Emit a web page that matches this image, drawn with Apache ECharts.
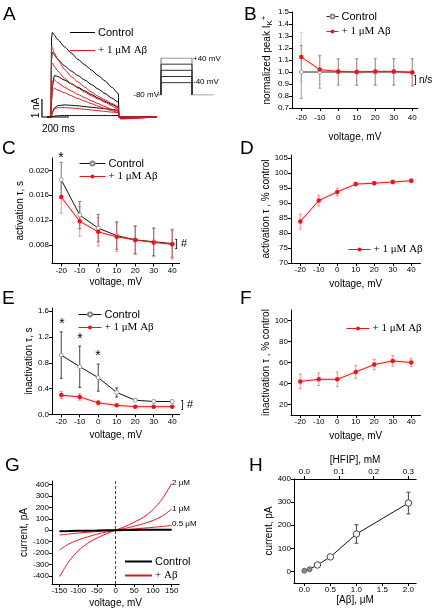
<!DOCTYPE html>
<html><head><meta charset="utf-8">
<script src="https://cdn.jsdelivr.net/npm/echarts@6/dist/echarts.min.js"></script>
<style>html,body{margin:0;padding:0;background:#fff}#c{width:436px;height:609px}</style>
</head><body><div id="c"></div>
<script>
const FONT = '"Liberation Sans", Arial, sans-serif';
const SERIF = '"Liberation Serif", "Times New Roman", serif';
const RED = '#e3181f';
const RED_ERR = 'rgba(225,60,60,0.55)';
const PINK_ERR = 'rgba(235,90,90,0.35)';

// ---- Panel A: current traces (ms, nA) ----
const traceTimes = [-30, 0, 4, 10, 25, 50, 100, 150, 200, 250, 300, 350, 400, 450, 499, 502, 515, 780];
const ctrlTraces = [
  [0,0,4.4,4.7,4.55,4.3,3.9,3.55,3.2,2.9,2.6,2.3,2.0,1.65,1.3,0,-0.05,0],
  [0,0,3.2,3.6,3.45,3.2,2.85,2.55,2.3,2.05,1.8,1.55,1.3,1.05,0.82,0,-0.05,0],
  [0,0,0.9,1.7,2.3,2.25,2.05,1.85,1.65,1.45,1.25,1.05,0.87,0.7,0.52,0,-0.03,0],
  [0,0,0.05,0.25,0.5,0.63,0.67,0.65,0.62,0.58,0.54,0.5,0.46,0.42,0.38,0,0,0],
  [0,0,0,0.02,0.05,0.07,0.08,0.08,0.08,0.08,0.08,0.08,0.08,0.08,0.08,0,0,0]
];
const abTraces = [
  [0,0,4.0,3.85,3.55,3.2,2.65,2.25,1.95,1.65,1.38,1.15,0.95,0.75,0.57,0,-0.1,0],
  [0,0,2.9,3.0,2.8,2.55,2.15,1.85,1.6,1.38,1.18,1.0,0.82,0.62,0.42,0,-0.1,0],
  [0,0,1.5,2.0,2.05,1.9,1.65,1.45,1.25,1.07,0.9,0.74,0.58,0.43,0.3,0,-0.08,0],
  [0,0,1.0,1.45,1.6,1.5,1.35,1.18,1.02,0.88,0.74,0.6,0.47,0.35,0.23,0,-0.05,0],
  [0,0,0.1,0.3,0.45,0.52,0.52,0.5,0.47,0.43,0.39,0.35,0.31,0.27,0.24,0,0,0]
];
const scaleBarT = [-67, -67, 133];
const scaleBarI = [1, 0, 0];
const protoSteps = [40, 20, 0, -20, -40];
const protoHold = -80;
const protoDur = 500;

// ---- Panels B-F: voltage steps ----
const voltages = [-20, -10, 0, 10, 20, 30, 40];
const bCtrl = [1, 1, 1, 1, 1, 1, 1];
const bCtrlErr = [0.22, 0.135, 0.11, 0.11, 0.11, 0.11, 0.11];
const bAb = [1.125, 1.02, 1.005, 1.0, 1.005, 1.005, 0.995];
const bAbErr = [0.205, 0.12, 0.105, 0.11, 0.11, 0.11, 0.115];

const cCtrl = [0.0185, 0.0128, 0.0107, 0.0095, 0.0088, 0.0085, 0.0082];
const cCtrlErr = [0.0028, 0.0022, 0.0022, 0.0022, 0.0022, 0.0022, 0.0022];
const cAb = [0.0157, 0.0118, 0.0101, 0.0093, 0.0088, 0.0084, 0.0081];
const cAbErr = [0.0026, 0.0024, 0.0023, 0.0024, 0.0023, 0.0023, 0.0024];

const dAb = [83.8, 90.8, 93.7, 96.3, 96.6, 97.0, 97.4];
const dAbErr = [2.5, 1.8, 1.3, 0.6, 0.5, 0.6, 0.6];

const eCtrl = [0.92, 0.74, 0.57, 0.34, 0.22, 0.20, 0.20];
const eCtrlErr = [0.36, 0.32, 0.21, 0.07, 0.02, 0.02, 0.02];
const eAb = [0.30, 0.27, 0.18, 0.14, 0.12, 0.12, 0.12];
const eAbErr = [0.055, 0.05, 0.03, 0.01, 0.01, 0.01, 0.01];

const fAb = [42, 44, 44, 51, 58, 61.5, 60];
const fAbErr = [7, 6, 7, 6, 5, 5, 4];

// ---- Panel G: I-V curves ----
const gV = [-150, -125, -100, -75, -50, -25, 0, 25, 50, 75, 100, 125, 150];
const g2uM = [-405, -275, -180, -115, -68, -32, 0, 32, 70, 115, 180, 275, 410];
const g1uM = [-172, -120, -85, -58, -35, -16, 0, 16, 35, 58, 85, 125, 185];
const g05uM = [-42, -33, -25, -18, -12, -6, 0, 6, 12, 18, 25, 33, 42];
const gCtrl = [-8, -7, -5, -4, -3, -1, 0, 1, 2, 3, 4, 5, 5];

// ---- Panel H: dose response ----
const hAb = [0, 0.1, 0.25, 0.5, 1.0, 2.0];
const hCur = [3, 10, 28, 63, 162, 296];
const hErr = [0, 0, 4, 10, 40, 47];
const hFilled = [true, true, false, false, false, false];

// tick label lists
const vTicks = [-20, -10, 0, 10, 20, 30, 40];
const cYTicks = [0.008, 0.012, 0.016, 0.020];
const fYTicks = [20, 40, 60, 80, 100];
const gXTicks = [-150, -100, -50, 0, 50, 100, 150];
const gYTicks = [-400, -300, -200, -100, 0, 100, 200, 300, 400];
const hXTicks = [0, 0.5, 1.0, 1.5, 2.0];
const hYTicks = [0, 100, 200, 300, 400];
const hTopTicks = [0, 0.1, 0.2, 0.3];

const LEG = {
  A_c: 'Control', A_a: '+ 1 μM Aβ', B_c: 'Control', B_a: '+ 1 μM Aβ',
  C_c: 'Control', C_a: '+ 1 μM Aβ', D_a: '+ 1 μM Aβ', E_c: 'Control', E_a: '+ 1 μM Aβ',
  F_a: '+ 1 μM Aβ', G_c: 'Control', G_a: '+ Aβ'
};

const chart = echarts.init(document.getElementById('c'), null, {renderer: 'canvas'});

function valAxis(gi, min, max, o) {
  o = o || {};
  const ax = {
    type: 'value', gridIndex: gi, min: min, max: max,
    splitLine: {show: false},
    axisLine: {show: true, onZero: false, lineStyle: {color: '#000', width: 1}},
    axisTick: {show: true, length: 3, lineStyle: {color: '#000'}},
    axisLabel: {color: '#000', fontSize: 8, fontFamily: FONT, margin: o.margin || 3},
    name: o.name || '', nameLocation: 'middle', nameGap: o.gap || 20,
    nameTextStyle: {color: '#000', fontSize: 10, fontFamily: FONT}
  };
  if (o.interval) ax.interval = o.interval;
  if (o.ticks) { ax.axisLabel.customValues = o.ticks; ax.axisTick.customValues = o.ticks; }
  if (o.fmt) ax.axisLabel.formatter = o.fmt;
  if (o.position) ax.position = o.position;
  if (o.rich) ax.nameTextStyle.rich = o.rich;
  return ax;
}
function hidden(gi, min, max) {
  return {type: 'value', gridIndex: gi, min: min, max: max, show: false, splitLine: {show: false}};
}

function errBar(xi, yi, xs, ys, es, color, cap) {
  return {
    type: 'custom', xAxisIndex: xi, yAxisIndex: yi, silent: true, z: 1,
    data: xs.map((x, i) => [x, ys[i] - es[i], ys[i] + es[i]]).filter((d, i) => es[i] > 0),
    renderItem: function (params, api) {
      const x = api.value(0);
      const lo = api.coord([x, api.value(1)]);
      const hi = api.coord([x, api.value(2)]);
      const w = cap / 2;
      const st = {stroke: color, lineWidth: 1};
      return {type: 'group', children: [
        {type: 'line', shape: {x1: lo[0], y1: lo[1], x2: hi[0], y2: hi[1]}, style: st},
        {type: 'line', shape: {x1: lo[0] - w, y1: lo[1], x2: lo[0] + w, y2: lo[1]}, style: st},
        {type: 'line', shape: {x1: hi[0] - w, y1: hi[1], x2: hi[0] + w, y2: hi[1]}, style: st}
      ]};
    }
  };
}
function ctrlLine(name, xi, xs, ys, color, size) {
  return {
    name: name, type: 'line', xAxisIndex: xi, yAxisIndex: xi, z: 3,
    data: xs.map((x, i) => [x, ys[i]]),
    symbol: 'circle', symbolSize: size || 4,
    lineStyle: {color: color || '#111', width: 1},
    itemStyle: {color: '#fff', borderColor: '#888', borderWidth: 0.8}
  };
}
function abLine(name, xi, xs, ys) {
  return {
    name: name, type: 'line', xAxisIndex: xi, yAxisIndex: xi, z: 4,
    data: xs.map((x, i) => [x, ys[i]]),
    symbol: 'circle', symbolSize: 4.5,
    lineStyle: {color: RED, width: 1, shadowColor: 'rgba(255,60,60,0.55)', shadowBlur: 3},
    itemStyle: {color: RED}
  };
}

const series = [];
// A traces
ctrlTraces.forEach((tr, k) => series.push({
  name: k === 0 ? 'A_c' : 'A_c' + k, type: 'line', xAxisIndex: 0, yAxisIndex: 0, symbol: 'none', z: 2,
  smooth: 0.25, smoothMonotone: 'x',
  data: traceTimes.map((t, i) => [t, tr[i]]), lineStyle: {color: '#000', width: 1}, itemStyle: {color: '#000'}
}));
abTraces.forEach((tr, k) => series.push({
  name: k === 0 ? 'A_a' : 'A_a' + k, type: 'line', xAxisIndex: 0, yAxisIndex: 0, symbol: 'none', z: 3,
  smooth: 0.25, smoothMonotone: 'x',
  data: traceTimes.map((t, i) => [t, tr[i]]), lineStyle: {color: RED, width: 1}, itemStyle: {color: RED}
}));
series.push({
  name: 'scalebar', type: 'line', xAxisIndex: 0, yAxisIndex: 0, symbol: 'none', z: 5,
  data: scaleBarT.map((t, i) => [t, scaleBarI[i]]), lineStyle: {color: '#000', width: 1.2}
});
// protocol
protoSteps.forEach((v, k) => series.push({
  name: 'proto' + k, type: 'line', xAxisIndex: 1, yAxisIndex: 1, symbol: 'none',
  data: [[0, protoHold], [0, v], [protoDur, v], [protoDur, protoHold]],
  lineStyle: {color: k === 0 ? '#777' : '#333', width: 1}
}));
series.push({name: 'protoHold', type: 'line', xAxisIndex: 1, yAxisIndex: 1, symbol: 'none',
  data: [[-50, protoHold], [0, protoHold]], lineStyle: {color: '#555', width: 1}});
series.push({name: 'protoTail', type: 'line', xAxisIndex: 1, yAxisIndex: 1, symbol: 'none',
  data: [[protoDur, protoHold], [850, protoHold]], lineStyle: {color: '#888', width: 1}});

// B
series.push(errBar(2, 2, voltages, bCtrl, bCtrlErr, '#999', 3));
series.push(errBar(2, 2, voltages, bAb, bAbErr, PINK_ERR, 3));
series.push(ctrlLine('B_c', 2, voltages, bCtrl, '#222', 4));
series.push(abLine('B_a', 2, voltages, bAb));
// C
series.push(errBar(3, 3, voltages, cCtrl, cCtrlErr, '#777', 3));
series.push(errBar(3, 3, voltages, cAb, cAbErr, RED_ERR, 3));
series.push(ctrlLine('C_c', 3, voltages, cCtrl, '#111', 4));
series.push(abLine('C_a', 3, voltages, cAb));
// D
series.push(errBar(4, 4, voltages, dAb, dAbErr, RED_ERR, 3));
series.push(abLine('D_a', 4, voltages, dAb));
// E
series.push(errBar(5, 5, voltages, eCtrl, eCtrlErr, '#444', 3));
series.push(errBar(5, 5, voltages, eAb, eAbErr, RED_ERR, 3));
series.push(ctrlLine('E_c', 5, voltages, eCtrl, '#111', 4));
series.push(abLine('E_a', 5, voltages, eAb));
// F
series.push(errBar(6, 6, voltages, fAb, fAbErr, RED_ERR, 3));
series.push(abLine('F_a', 6, voltages, fAb));
// G
series.push({name: 'G_c', type: 'line', xAxisIndex: 7, yAxisIndex: 7, symbol: 'none', z: 4,
  data: gV.map((v, i) => [v, gCtrl[i]]), lineStyle: {color: '#000', width: 2}, itemStyle: {color: '#000'},
  markLine: {silent: true, symbol: 'none', label: {show: false}, lineStyle: {color: '#444', type: [3, 2], width: 1},
    data: [{xAxis: 0}]}});
[['G_a', g2uM], ['G_a1', g1uM], ['G_a05', g05uM]].forEach(p => series.push({
  name: p[0], type: 'line', xAxisIndex: 7, yAxisIndex: 7, symbol: 'none', smooth: 0.3, z: 3,
  data: gV.map((v, i) => [v, p[1][i]]), lineStyle: {color: RED, width: 1}, itemStyle: {color: RED}
}));
// H
series.push(errBar(8, 8, hAb, hCur, hErr, '#444', 4));
series.push({name: 'H', type: 'line', xAxisIndex: 8, yAxisIndex: 8, z: 3,
  data: hAb.map((x, i) => hFilled[i]
    ? {value: [x, hCur[i]], symbol: 'circle', symbolSize: 5, itemStyle: {color: '#888', borderColor: '#555', borderWidth: 0.8}}
    : {value: [x, hCur[i]], symbol: 'circle', symbolSize: 6.5, itemStyle: {color: '#fff', borderColor: '#333', borderWidth: 0.9}}),
  lineStyle: {color: '#111', width: 1}});

const grids = [
  {left: 37.5, top: 18, width: 121.6, height: 108},
  {left: 157.9, top: 58, width: 55.8, height: 37},
  {left: 292, top: 12, width: 125.8, height: 96},
  {left: 52, top: 158, width: 127.6, height: 105.5},
  {left: 291, top: 155, width: 129.5, height: 108},
  {left: 52, top: 308, width: 127.6, height: 106.4},
  {left: 291, top: 310, width: 129.5, height: 105},
  {left: 52, top: 481, width: 127.2, height: 104.4},
  {left: 294, top: 479, width: 122.2, height: 104}
];

const xAxes = [
  hidden(0, -100, 800),
  hidden(1, -50, 850),
  valAxis(2, -25, 43, {ticks: vTicks, name: 'voltage, mV', gap: 24, margin: 6}),
  valAxis(3, -25, 44, {ticks: vTicks, name: 'voltage, mV', gap: 14}),
  valAxis(4, -25, 45, {ticks: vTicks, name: 'voltage, mV', gap: 16}),
  valAxis(5, -25, 44, {ticks: vTicks, name: 'voltage, mV', gap: 16}),
  valAxis(6, -25, 45, {ticks: vTicks, name: 'voltage, mV', gap: 16}),
  valAxis(7, -170, 170, {ticks: gXTicks, name: 'voltage, mV', gap: 14}),
  valAxis(8, -0.2, 2.15, {ticks: hXTicks, name: '[Aβ], μM', gap: 11, fmt: v => v.toFixed(1)}),
  valAxis(8, -0.03, 0.3225, {ticks: hTopTicks, name: '[HFIP], mM', gap: 14, position: 'top', fmt: v => v.toFixed(1)})
];
const yAxes = [
  hidden(0, -0.5, 5.5),
  hidden(1, -80, 40),
  valAxis(2, 0.7, 1.5, {interval: 0.1, fmt: v => v.toFixed(1), name: 'normalized peak I{sub|K}{sup|+}', gap: 16,
    rich: {sub: {fontSize: 8, verticalAlign: 'bottom', fontFamily: FONT, padding: [6, 0, 0, 0]}, sup: {fontSize: 8, verticalAlign: 'top', fontFamily: FONT, padding: [0, 0, 6, 0]}}}),
  valAxis(3, 0.005, 0.022, {ticks: cYTicks, fmt: v => v.toFixed(3), name: 'activation τ, s', gap: 23}),
  valAxis(4, 70, 106, {interval: 5, name: 'activation τ , % control', gap: 16}),
  valAxis(5, 0, 1.65, {interval: 0.4, fmt: v => v.toFixed(1), name: 'inactivation τ, s', gap: 15}),
  valAxis(6, 10, 110, {ticks: fYTicks, name: 'inactivation τ , % control', gap: 16}),
  valAxis(7, -470, 430, {ticks: gYTicks, name: 'current, pA', gap: 18}),
  valAxis(8, -50, 400, {ticks: hYTicks, name: 'current, pA', gap: 16})
];

function leg(left, top, names, itemWidth, fontSize, gap, serifNames, lineIcon) {
  const l = {
    left: left, top: top, orient: 'vertical', itemWidth: itemWidth, itemHeight: 5, itemGap: gap,
    selectedMode: false, padding: 0,
    lineStyle: {width: 1},
    data: names.map(n => serifNames.indexOf(n) >= 0 ? {name: n, textStyle: {fontFamily: SERIF}} : {name: n}),
    formatter: n => LEG[n],
    textStyle: {color: '#000', fontSize: fontSize, fontFamily: FONT, padding: [0, 0, 0, -2]}
  };
  if (lineIcon) {
    l.data = l.data.map(d => Object.assign(d, {icon: 'rect', itemStyle: {}}));
    l.itemHeight = lineIcon;
  }
  return l;
}
const legends = [
  leg(70, 27, ['A_c', 'A_a'], 25, 11, 7, ['A_a'], 1),
  leg(326, 11, ['B_c', 'B_a'], 12, 11, 4, ['B_a']),
  leg(79, 158, ['C_c', 'C_a'], 26, 11, 2, ['C_a']),
  leg(348, 244, ['D_a'], 22, 11, 1, ['D_a']),
  leg(78, 309, ['E_c', 'E_a'], 23, 11, 2, ['E_a']),
  leg(346, 323, ['F_a'], 23, 11, 1, ['F_a']),
  leg(125, 556, ['G_c', 'G_a'], 27, 11, 3, ['G_a'], 2)
];

function txt(x, y, s, size, o) {
  o = o || {};
  return {type: 'text', x: x, y: y, rotation: o.rot || 0, z: 10,
    style: {text: s, fontSize: size, fontFamily: o.family || FONT, fill: '#000',
      textAlign: o.align || 'left', textVerticalAlign: 'middle'}};
}
const graphics = [
  txt(3, 15, 'A', 19), txt(244, 15, 'B', 19), txt(2, 149, 'C', 19), txt(240, 149, 'D', 19),
  txt(2, 299, 'E', 19), txt(240, 299, 'F', 19), txt(5, 466, 'G', 19), txt(249, 466, 'H', 19),
  txt(36, 108, '1 nA', 10, {rot: Math.PI / 2, align: 'center'}),
  txt(42, 129, '200 ms', 10),
  txt(193, 59, '+40 mV', 8), txt(193, 82, '-40 mV', 8), txt(159, 95, '-80 mV', 8, {align: 'right'}),
  txt(414, 80, ']', 10), txt(419, 80, 'n/s', 10),
  txt(61, 158, '*', 14, {align: 'center'}),
  txt(175, 244, ']', 10), txt(181, 244, '#', 11),
  txt(62, 324, '*', 14, {align: 'center'}), txt(80, 339, '*', 14, {align: 'center'}), txt(98, 356, '*', 14, {align: 'center'}),
  txt(181, 405, ']', 10), txt(187, 405, '#', 11),
  txt(172, 483, '2 μM', 8), txt(172, 509, '1 μM', 8), txt(172, 524, '0.5 μM', 8)
];

chart.setOption({
  animation: false,
  backgroundColor: '#fff',
  grid: grids,
  xAxis: xAxes,
  yAxis: yAxes,
  legend: legends,
  series: series,
  graphic: graphics
});
</script></body></html>
